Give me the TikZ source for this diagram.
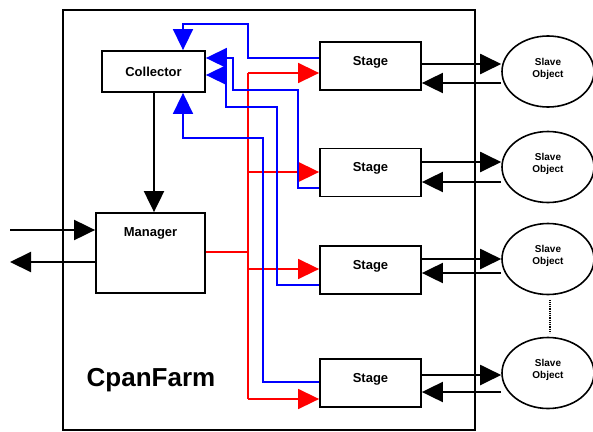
\documentclass[tikz,border=0pt]{standalone}
\usepackage{fontspec}
\setmainfont{Liberation Sans}
\usetikzlibrary{arrows.meta,shapes.geometric}
\begin{document}
\begin{tikzpicture}[x=1pt,y=-1pt,
  box/.style={draw, line width=1.8pt, rectangle, inner sep=0pt},
  boxtext/.style={font=\bfseries\fontsize{13}{15}\selectfont},
  stagebox/.style={box, minimum width=101pt, minimum height=48pt,
    label={[boxtext, anchor=center, yshift=4pt]center:Stage}},
  slave/.style={draw, line width=1.6pt, ellipse, inner sep=0pt,
    minimum width=92pt, minimum height=71pt,
    label={[align=center, anchor=center, yshift=3pt,
      font=\bfseries\fontsize{10}{12}\selectfont]center:Slave\\Object}},
  blk/.style={line width=2pt, black},
  bl/.style={line width=1.6pt, blue},
  rd/.style={line width=1.6pt, red},
  tip/.style={-{Triangle[length=21pt,width=20pt]}},
]
\useasboundingbox (0,0) rectangle (593,431);

% outer frame
\node[draw, line width=2pt, inner sep=0pt, minimum width=412pt, minimum height=420pt] (farm) at (269,220) {};
\node[font=\bfseries\fontsize{26}{30}\selectfont] (name) at (151,380.5) {CpanFarm};

% boxes
\node[box, boxtext, minimum width=103pt, minimum height=41pt] (coll) at (153.5,71.5) {Collector};
\node[box, minimum width=109pt, minimum height=80pt,
  label={[boxtext, anchor=center, yshift=-21pt]north:Manager}] (mgr) at (150.5,253) {};
\node[stagebox] (s1) at (370.5,66) {};
\node[stagebox] (s2) at (370.5,172.5) {};
\node[stagebox] (s3) at (370.5,270) {};
\node[stagebox] (s4) at (370.5,383) {};

% slave objects
\node[slave] (o1) at (548,71.5) {};
\node[slave] (o2) at (548,167) {};
\node[slave] (o3) at (548,259) {};
\node[slave] (o4) at (548,373) {};
\draw[line width=1.5pt, dash pattern=on 1pt off 0.8pt]
  ([xshift=2pt,yshift=-5pt]o3.south) -- ([xshift=2pt,yshift=4pt]o4.north);

% black connectors
\draw[blk, tip] (coll.south -| 154,0) -- (mgr.north -| 154,0);
\draw[blk, tip] (10,230) -- (mgr.west |- 0,230);
\draw[blk, tip] (mgr.west |- 0,262) -- (10,262);

\draw[blk, tip] (s1.east |- 0,64) -- (o1.west |- 0,64);
\draw[blk, tip] (o1.west |- 0,83) -- (s1.east |- 0,83);
\draw[blk, tip] (s2.east |- 0,162) -- (o2.west |- 0,162);
\draw[blk, tip] (o2.west |- 0,182) -- (s2.east |- 0,182);
\draw[blk, tip] (s3.east |- 0,259) -- (o3.west |- 0,259);
\draw[blk, tip] (o3.west |- 0,273) -- (s3.east |- 0,273);
\draw[blk, tip] (s4.east |- 0,375) -- (o4.west |- 0,375);
\draw[blk, tip] (o4.west |- 0,392) -- (s4.east |- 0,392);

% red distribution
\draw[rd] (mgr.east |- 0,252) -- (248,252);
\draw[rd] (248,73) -- (248,399);
\draw[rd, tip] (248,73) -- (s1.west |- 0,73);
\draw[rd, tip] (248,172) -- (s2.west |- 0,172);
\draw[rd, tip] (248,269) -- (s3.west |- 0,269);
\draw[rd, tip] (248,399) -- (s4.west |- 0,399);

% blue collection
\draw[bl, tip] (s1.west |- 0,58) -- (248,58) -- (248,24) -- (183,24) -- (coll.north -| 183,0);
\draw[bl, tip] (s2.west |- 0,188) -- (298,188) -- (298,90) -- (233,90) -- (233,58) -- (coll.east |- 0,58);
\draw[bl, tip] (s3.west |- 0,285) -- (277,285) -- (277,107) -- (226,107) -- (226,75) -- (coll.east |- 0,75);
\draw[bl, tip] (s4.west |- 0,382) -- (263,382) -- (263,138) -- (183,138) -- (coll.south -| 183,0);
\end{tikzpicture}
\end{document}
